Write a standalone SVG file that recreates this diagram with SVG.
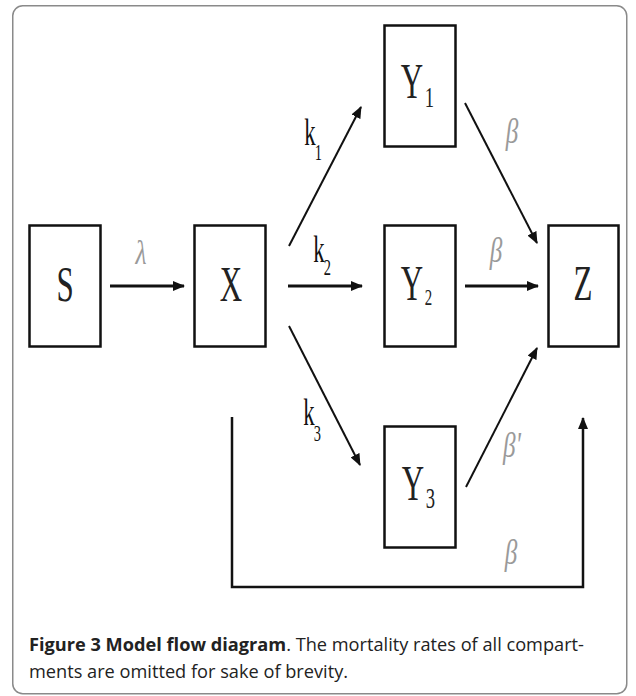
<svg xmlns="http://www.w3.org/2000/svg" width="636" height="696" viewBox="0 0 636 696">
<defs>
<style>
.frame{fill:#fff;stroke:#8a8a8a;stroke-width:1.5}
.box{fill:#fff;stroke:#111;stroke-width:2.5}
.node{font-family:"Liberation Serif","Times New Roman",serif;fill:#222}
.rate{font-family:"Liberation Serif","Times New Roman",serif;font-style:italic;fill:#9a9a9a}
.kl{font-family:"Liberation Serif","Times New Roman",serif;fill:#111}
.c{stroke:#111;fill:none}
.thick{stroke-width:3}
.thin{stroke-width:2}
.cap{font-family:"Open Sans","Noto Sans","Liberation Sans",sans-serif;font-size:18.2px;fill:#222}
</style>
<marker id="ah" viewBox="0 0 12 10" refX="11" refY="5" markerWidth="12" markerHeight="10" markerUnits="userSpaceOnUse" orient="auto">
<path d="M0,0 L12,5 L0,10 z" fill="#111"/>
</marker>
</defs>
<rect class="frame" x="12.75" y="5.75" width="614" height="688" rx="10"/>

<g id="connectors">
<line class="c thick" x1="110" y1="286" x2="184" y2="286" marker-end="url(#ah)"/>
<line class="c thick" x1="288" y1="286" x2="362" y2="286" marker-end="url(#ah)"/>
<line class="c thick" x1="465" y1="286" x2="538" y2="286" marker-end="url(#ah)"/>
<line class="c thin" x1="289" y1="246" x2="361" y2="107" marker-end="url(#ah)"/>
<line class="c thin" x1="289" y1="326" x2="360" y2="465" marker-end="url(#ah)"/>
<line class="c thin" x1="465" y1="103" x2="537" y2="243" marker-end="url(#ah)"/>
<line class="c thin" x1="466" y1="487" x2="537" y2="348" marker-end="url(#ah)"/>
<polyline class="c" stroke-width="2.5" points="232,417 232,587 583,587 583,418" marker-end="url(#ah)"/>
</g>

<g id="labels">
<text class="rate" font-size="34" transform="translate(141,264) scale(0.75,1)" text-anchor="middle">λ</text>
<g transform="translate(310,145) scale(0.6,1)">
<text class="kl" font-size="38" x="0" y="0" text-anchor="middle">k</text>
<text class="kl" font-size="24" x="14" y="15" text-anchor="middle">1</text>
</g>
<g transform="translate(319,262) scale(0.6,1)">
<text class="kl" font-size="38" x="0" y="0" text-anchor="middle">k</text>
<text class="kl" font-size="24" x="14" y="13" text-anchor="middle">2</text>
</g>
<g transform="translate(309,425) scale(0.6,1)">
<text class="kl" font-size="38" x="0" y="0" text-anchor="middle">k</text>
<text class="kl" font-size="24" x="14" y="16" text-anchor="middle">3</text>
</g>
<text class="rate" font-size="36" transform="translate(512,143) scale(0.7,1)" text-anchor="middle">β</text>
<text class="rate" font-size="36" transform="translate(496,262) scale(0.7,1)" text-anchor="middle">β</text>
<text class="rate" font-size="36" transform="translate(512,457) scale(0.7,1)" text-anchor="middle">β'</text>
<text class="rate" font-size="36" transform="translate(511,564) scale(0.7,1)" text-anchor="middle">β</text>
</g>

<g id="node-S">
<rect class="box" x="29.5" y="225.5" width="71" height="121"/>
<text class="node" font-size="50" transform="translate(65,301) scale(0.62,1)" text-anchor="middle">S</text>
</g>
<g id="node-X">
<rect class="box" x="194.5" y="225.5" width="71" height="121"/>
<text class="node" font-size="50" transform="translate(231,301) scale(0.62,1)" text-anchor="middle">X</text>
</g>
<g id="node-Y1">
<rect class="box" x="384.5" y="25.5" width="71" height="121"/>
<text class="node" font-size="50" transform="translate(412,98) scale(0.62,1)" text-anchor="middle">Y</text>
<text class="node" font-size="30" transform="translate(429.5,107) scale(0.62,1)" text-anchor="middle">1</text>
</g>
<g id="node-Y2">
<rect class="box" x="384.5" y="225.5" width="71" height="121"/>
<text class="node" font-size="50" transform="translate(412,300) scale(0.62,1)" text-anchor="middle">Y</text>
<text class="node" font-size="24" transform="translate(428.5,305) scale(0.62,1)" text-anchor="middle">2</text>
</g>
<g id="node-Y3">
<rect class="box" x="384.5" y="426.5" width="71" height="121"/>
<text class="node" font-size="50" transform="translate(413,500) scale(0.62,1)" text-anchor="middle">Y</text>
<text class="node" font-size="30" transform="translate(430.5,508) scale(0.62,1)" text-anchor="middle">3</text>
</g>
<g id="node-Z">
<rect class="box" x="548.5" y="225.5" width="70" height="121"/>
<text class="node" font-size="50" transform="translate(583,300) scale(0.62,1)" text-anchor="middle">Z</text>
</g>

<g id="caption">
<text class="cap" x="29" y="651"><tspan font-weight="bold">Figure 3 Model flow diagram</tspan>. The mortality rates of all compart-</text>
<text class="cap" x="29" y="678">ments are omitted for sake of brevity.</text>
</g>
</svg>
